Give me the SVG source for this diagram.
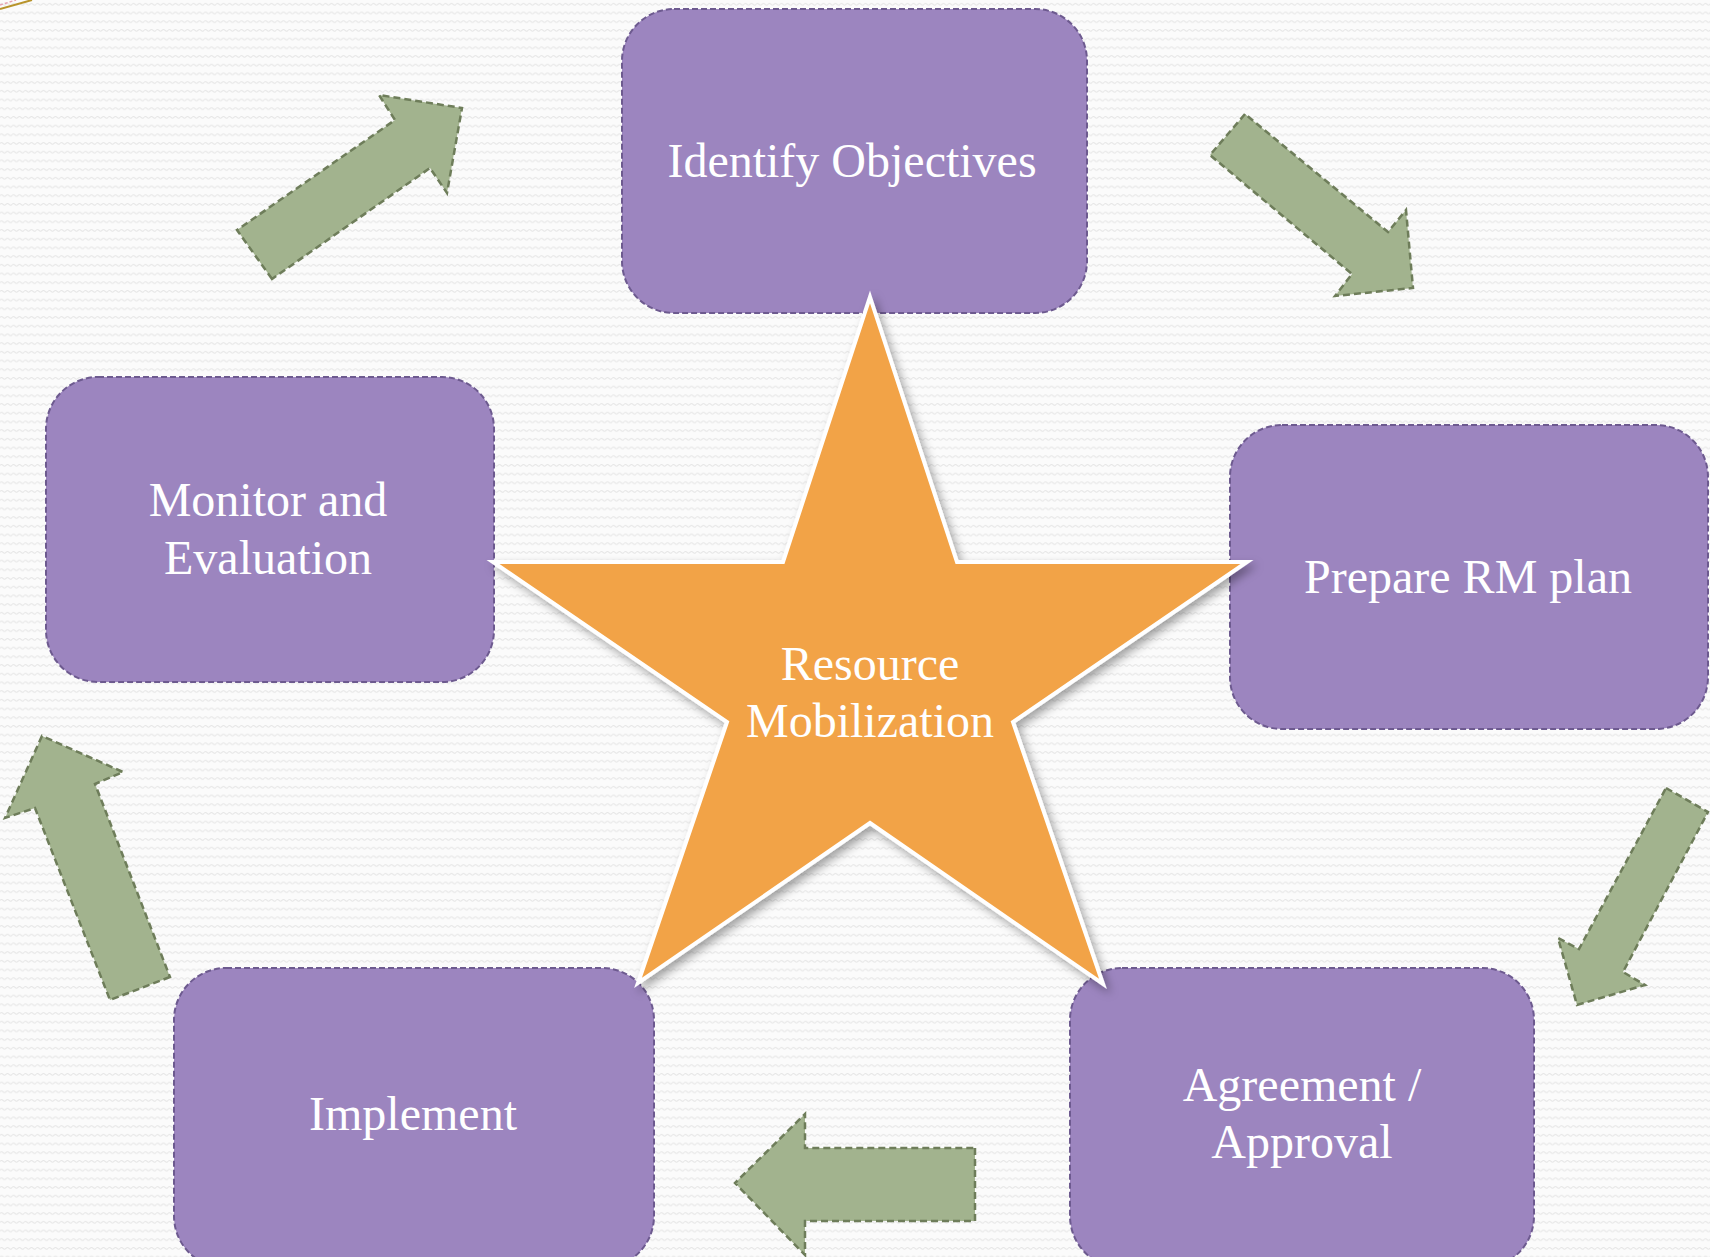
<svg xmlns="http://www.w3.org/2000/svg" width="1710" height="1257" viewBox="0 0 1710 1257">
  <defs>
    <!-- faint woven backdrop -->
    <pattern id="weave" width="12" height="8.7" patternUnits="userSpaceOnUse">
      <rect width="12" height="8.7" fill="#fbfbfb"/>
      <path d="M0 4.3 Q1.5 2.6 3 4.3 T6 4.3 T9 4.3 T12 4.3" fill="none" stroke="#e6e6e6" stroke-width="1"/>
    </pattern>
    <filter id="starShadow" x="-10%" y="-10%" width="125%" height="125%">
      <feDropShadow dx="4" dy="5" stdDeviation="5" flood-color="#000" flood-opacity="0.35"/>
    </filter>
    <style>
      .box { fill: #9c85bf; stroke: #6d5a8f; stroke-width: 2; stroke-dasharray: 6 3; }
      .arrow { fill: #a2b38e; stroke: #6e7d5a; stroke-width: 2.5; stroke-dasharray: 7 4; stroke-linejoin: miter; }
      .star { fill: #f2a347; stroke: #ffffff; stroke-width: 4; stroke-linejoin: miter; }
      .label { font-family: "Liberation Serif", "Times New Roman", serif; font-size: 48px; fill: #ffffff; text-anchor: middle; }
    </style>
  </defs>

  <rect width="1710" height="1257" fill="url(#weave)"/>

  <!-- corner fragment -->
  <line x1="0" y1="9" x2="32" y2="0" stroke="#b8942c" stroke-width="2"/>
  <line x1="0" y1="5" x2="16" y2="0" stroke="#e8a0b0" stroke-width="1.5" stroke-dasharray="3 2"/>

  <!-- cycle arrows -->
  <g id="connectors">
    <polygon class="arrow" points="272,279 237,230 395,120 379,95 462,108 447,193 430,168"/>
    <polygon class="arrow" points="1245,114 1210,155 1352,274 1335,296 1413,288 1406,210 1388,232"/>
    <polygon class="arrow" points="1666,788 1708,812 1623,972 1645,985 1577,1005 1558,938 1579,949"/>
    <polygon class="arrow" points="975,1148 975,1221 805,1221 805,1255 735,1183 805,1114 805,1148"/>
    <polygon class="arrow" points="170,977 110,1000 35,808 5,818 42,736 123,772 95,784"/>
  </g>

  <g id="node-identify">
    <rect class="box" x="622" y="9" width="465" height="304" rx="52"/>
    <text class="label" x="852" y="177">Identify Objectives</text>
  </g>

  <g id="node-prepare">
    <rect class="box" x="1230" y="425" width="478" height="304" rx="52"/>
    <text class="label" x="1468" y="593">Prepare RM plan</text>
  </g>

  <g id="node-agreement">
    <rect class="box" x="1070" y="968" width="464" height="300" rx="52"/>
    <text class="label" x="1302" y="1101">Agreement /</text>
    <text class="label" x="1302" y="1158">Approval</text>
  </g>

  <g id="node-implement">
    <rect class="box" x="174" y="968" width="480" height="300" rx="52"/>
    <text class="label" x="413" y="1130">Implement</text>
  </g>

  <g id="node-monitor">
    <rect class="box" x="46" y="377" width="448" height="305" rx="52"/>
    <text class="label" x="268" y="516">Monitor and</text>
    <text class="label" x="268" y="574">Evaluation</text>
  </g>

  <g id="node-center">
    <polygon class="star" filter="url(#starShadow)" points="870,297 957,562 1247,562 1013,722 1103,984 870,823 638,983 727,722 493,562 783,562"/>
    <text class="label" x="870" y="680">Resource</text>
    <text class="label" x="870" y="737">Mobilization</text>
  </g>
</svg>
